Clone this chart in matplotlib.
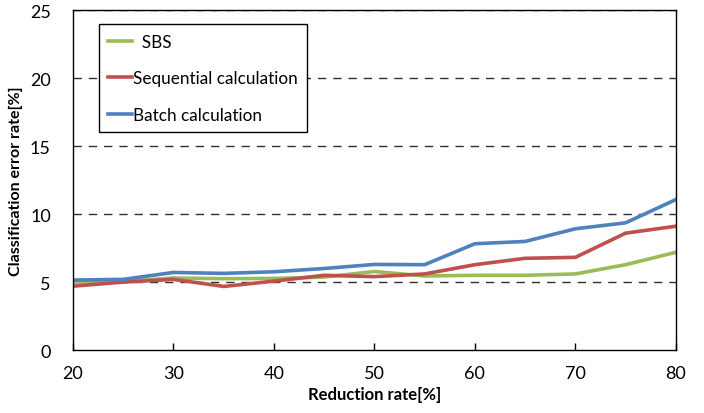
import matplotlib
matplotlib.use('Agg')
import matplotlib.pyplot as plt

reduction = [20, 25, 30, 35, 40, 45, 50, 55, 60, 65, 70, 75, 80]
sbs = [5.0, 5.05, 5.3, 5.25, 5.27, 5.37, 5.78, 5.45, 5.5, 5.5, 5.6, 6.28, 7.19]
sequential = [4.7, 5.0, 5.2, 4.68, 5.07, 5.5, 5.4, 5.6, 6.28, 6.75, 6.82, 8.6, 9.11]
batch = [5.15, 5.2, 5.71, 5.64, 5.76, 6.0, 6.3, 6.28, 7.82, 7.99, 8.92, 9.36, 11.07]

series_names = ['  SBS', 'Sequential calculation', 'Batch calculation']
colors = ['#9bbb59', '#c0504d', '#4f81bd']

plt.rcParams['font.family'] = ['Lato', 'DejaVu Sans']

fig = plt.figure(figsize=(7.04, 4.14), dpi=100)
ax = fig.add_axes([0.1037, 0.152, 0.8563, 0.821])

for vals, name, c in zip([sbs, sequential, batch], series_names, colors):
    ax.plot(reduction, vals, color=c, linewidth=2.6, label=name)

ax.set_xlim(20, 80)
ax.set_ylim(0, 25)
ax.set_xticks(range(20, 81, 10))
ax.set_yticks(range(0, 26, 5))
for y in range(5, 26, 5):
    ax.axhline(y, color='#303030', linestyle=(0, (6, 5)), linewidth=1.0, zorder=0)

ax.tick_params(axis='x', direction='in', length=5, width=1, labelsize=13, pad=11)
ax.tick_params(axis='y', length=0, labelsize=13, pad=16)
for s in ax.spines.values():
    s.set_linewidth(1.0)

ax.set_xlabel('Reduction rate[%]', fontsize=12, fontweight='bold', labelpad=3)
ax.set_ylabel('Classification error rate[%]', fontsize=11.5, fontweight='bold', labelpad=5)

leg = ax.legend(loc='upper left', bbox_to_anchor=(0.043, 0.959), borderaxespad=0,
                fontsize=12.3, frameon=True, fancybox=False, edgecolor='black',
                framealpha=1, labelspacing=1.2, handlelength=1.4, handletextpad=0.05,
                borderpad=0.55)
leg.get_frame().set_linewidth(1.0)

fig.savefig('out.png', dpi=100)
